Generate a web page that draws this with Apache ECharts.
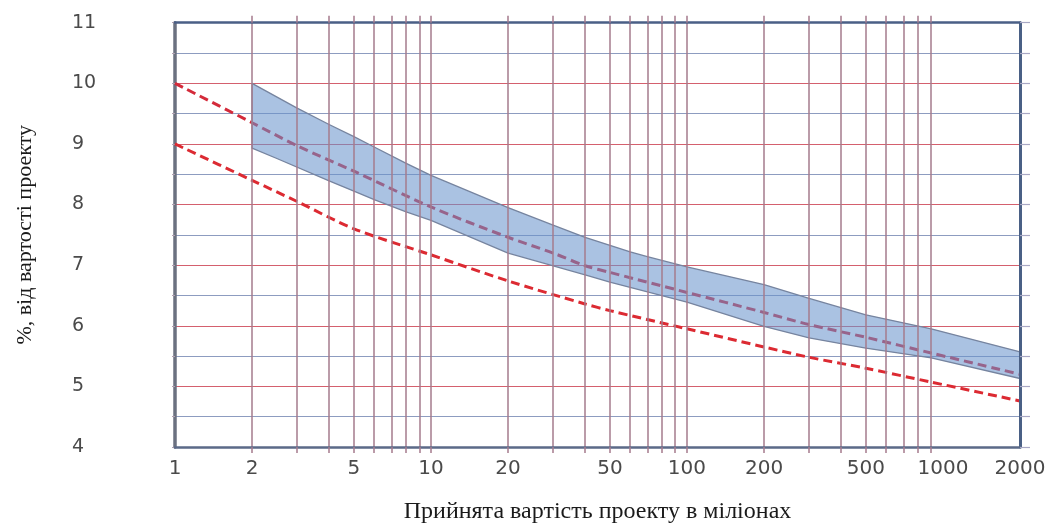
<!DOCTYPE html>
<html>
<head>
<meta charset="utf-8">
<script src="https://cdn.jsdelivr.net/npm/echarts@6/dist/echarts.min.js"></script>
<style>
html,body{margin:0;padding:0;background:#ffffff;}
#chart{width:1057px;height:526px;}
</style>
</head>
<body>
<div id="chart"></div>
<script>
// ---- data ----
const xLabelValues = [1, 2, 5, 10, 20, 50, 100, 200, 500, 1000, 2000];
const xGridValues = [2, 3, 4, 5, 6, 7, 8, 9, 10, 20, 30, 40, 50, 60, 70, 80, 90, 100, 200, 300, 400, 500, 600, 700, 800, 900];
const yMin = 4, yMax = 11, yStep = 0.5;

const upperLine = [[1, 10.0], [2, 9.35], [3, 8.97], [5, 8.55], [10, 7.96], [20, 7.46], [30, 7.2], [40, 6.99], [50, 6.88], [100, 6.55], [200, 6.22], [300, 6.02], [500, 5.81], [900, 5.55], [2000, 5.2]];
const lowerLine = [[1, 9.0], [2, 8.4], [3, 8.05], [5, 7.6], [10, 7.17], [20, 6.74], [40, 6.36], [50, 6.25], [100, 5.95], [200, 5.65], [300, 5.48], [500, 5.3], [900, 5.07], [2000, 4.76]];
const bandTop = [[2, 10.0], [3, 9.59], [4, 9.32], [5, 9.12], [6, 8.95], [8, 8.68], [10, 8.48], [20, 7.95], [30, 7.66], [40, 7.46], [60, 7.22], [70, 7.14], [100, 6.97], [200, 6.68], [300, 6.45], [500, 6.18], [900, 5.95], [2000, 5.57]];
const bandBottom = [[2, 8.93], [2.5, 8.76], [4, 8.39], [5, 8.22], [6, 8.08], [8, 7.88], [10, 7.74], [20, 7.2], [40, 6.84], [50, 6.72], [100, 6.39], [200, 5.99], [300, 5.8], [500, 5.63], [900, 5.47], [2000, 5.13]];

const xAxisName = 'Прийнята вартість проекту в міліонах';
const yAxisName = '%, від вартості проекту';

// ---- chart ----
const chart = echarts.init(document.getElementById('chart'), null, {renderer: 'canvas'});
const labelFont = {fontFamily: 'DejaVu Sans', fontSize: 19, color: '#4a4a4a'};
const nameFont = {fontFamily: 'Liberation Serif', fontSize: 24, color: '#1a1a1a'};
const vLineColor = '#a57b8d';

const option = {
  animation: false,
  backgroundColor: '#ffffff',
  grid: {left: 175, right: 37, top: 22.7, bottom: 79, containLabel: false, outerBoundsMode: 'none'},
  xAxis: [
    {
      type: 'log', logBase: 10, min: 1, max: 2000, position: 'bottom',
      name: xAxisName, nameLocation: 'middle', nameGap: 53,
      nameTextStyle: nameFont,
      axisLine: {show: true, lineStyle: {color: '#5b6a88', width: 2.5}},
      axisTick: {show: true, customValues: xGridValues, length: 6, lineStyle: {color: vLineColor, width: 1.5}},
      axisLabel: {show: true, customValues: xLabelValues, margin: 12, formatter: v => String(Math.round(v)), ...labelFont, fontSize: 20},
      splitLine: {show: false}, minorTick: {show: false}, minorSplitLine: {show: false},
      z: 10
    },
    {
      type: 'log', logBase: 10, min: 1, max: 2000, position: 'top',
      axisLine: {show: true, lineStyle: {color: '#4a5f86', width: 2.5}},
      axisTick: {show: true, customValues: xGridValues, length: 7, lineStyle: {color: vLineColor, width: 1.5}},
      axisLabel: {show: false},
      splitLine: {show: false},
      z: 10
    }
  ],
  yAxis: [
    {
      type: 'value', min: yMin, max: yMax, interval: yStep, position: 'left',
      name: yAxisName, nameLocation: 'middle', nameGap: 139, nameRotate: 90,
      nameTextStyle: {...nameFont, fontSize: 22},
      axisLine: {show: true, lineStyle: {color: '#6b7180', width: 3.5}},
      axisTick: {show: true, length: 3, lineStyle: {color: '#b0a0b0', width: 1}},
      axisLabel: {show: true, align: 'left', margin: 103, formatter: v => (Math.abs(v - Math.round(v)) < 1e-9 ? String(Math.round(v)) : ''), ...labelFont},
      splitLine: {show: true, lineStyle: {color: ['#d4606e', '#8d9cc0'], width: 1.2}},
      z: 0
    },
    {
      type: 'value', min: yMin, max: yMax, interval: yStep, position: 'right',
      axisLine: {show: true, lineStyle: {color: '#4a6085', width: 3}},
      axisTick: {show: true, length: 10, lineStyle: {color: '#a8a8c4', width: 1.2}},
      axisLabel: {show: false},
      splitLine: {show: false},
      z: 10
    }
  ],
  series: [
    {
      name: 'grid', type: 'line', xAxisIndex: 0, yAxisIndex: 0, z: 1, silent: true,
      data: [[1, 4]], showSymbol: false, lineStyle: {opacity: 0},
      markLine: {
        silent: true, animation: false, symbol: ['none', 'none'],
        label: {show: false},
        lineStyle: {type: 'solid', color: vLineColor, width: 1.5},
        emphasis: {disabled: true},
        data: xGridValues.map(v => ({xAxis: v}))
      }
    },
    {
      name: 'lower', type: 'line', xAxisIndex: 0, yAxisIndex: 0, z: 3, silent: true,
      data: lowerLine, showSymbol: false, smooth: 0.3,
      lineStyle: {color: '#dc2a32', width: 3, type: [9, 5]}
    },
    {
      name: 'upper', type: 'line', xAxisIndex: 0, yAxisIndex: 0, z: 3, silent: true,
      data: upperLine, showSymbol: false, smooth: 0.3,
      lineStyle: {color: '#d42a3a', width: 3, type: [9, 5]}
    },
    {
      name: 'band', type: 'custom', xAxisIndex: 0, yAxisIndex: 0, z: 4, silent: true,
      data: [[2, 9]], encode: {x: 0, y: 1},
      renderItem: function (params, api) {
        const pts = bandTop.map(p => api.coord(p)).concat(bandBottom.slice().reverse().map(p => api.coord(p)));
        return {
          type: 'polygon',
          shape: {points: pts},
          style: {fill: 'rgba(104,146,204,0.56)', stroke: '#76849f', lineWidth: 1.3, lineJoin: 'round'}
        };
      }
    }
  ]
};
chart.setOption(option);
</script>
</body>
</html>
